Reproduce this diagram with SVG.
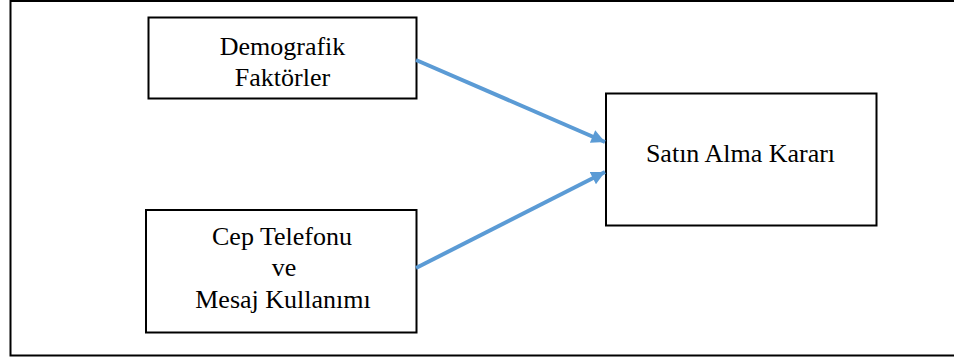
<svg xmlns="http://www.w3.org/2000/svg" width="954" height="360" viewBox="0 0 954 360">
<defs>
<style>
.box{fill:#fff;stroke:#000;stroke-width:2}
.t{font-family:"Liberation Serif","Times New Roman",serif;font-size:26px;fill:#000;text-anchor:middle}
.c{stroke:#5B9BD5;stroke-width:4;fill:none}
</style>
<marker id="ah" viewBox="0 0 10 10" refX="10" refY="5" markerWidth="3.6" markerHeight="3.4" orient="auto" markerUnits="strokeWidth">
<path d="M0,0 L10,5 L0,10 z" fill="#5B9BD5"/>
</marker>
</defs>
<rect x="0" y="0" width="954" height="360" fill="#fff"/>
<path d="M960,1 H10.5 V355.5 H960" fill="none" stroke="#000" stroke-width="2"/>
<g id="n1">
<rect class="box" x="148.5" y="17.5" width="268" height="81"/>
<text class="t" x="282.5" y="55">Demografik</text>
<text class="t" x="282.5" y="86">Faktörler</text>
</g>
<g id="n2">
<rect class="box" x="146" y="210" width="270.5" height="122.5"/>
<text class="t" x="282" y="245">Cep Telefonu</text>
<text class="t" x="284" y="276">ve</text>
<text class="t" x="283" y="308">Mesaj Kullanımı</text>
</g>
<g id="n3">
<rect class="box" x="606" y="93.5" width="270.5" height="132"/>
<text class="t" x="740.5" y="162">Satın Alma Kararı</text>
</g>
<g id="connectors">
<line class="c" x1="416" y1="60" x2="605" y2="142" marker-end="url(#ah)"/>
<line class="c" x1="416" y1="268" x2="605" y2="172" marker-end="url(#ah)"/>
</g>
</svg>
